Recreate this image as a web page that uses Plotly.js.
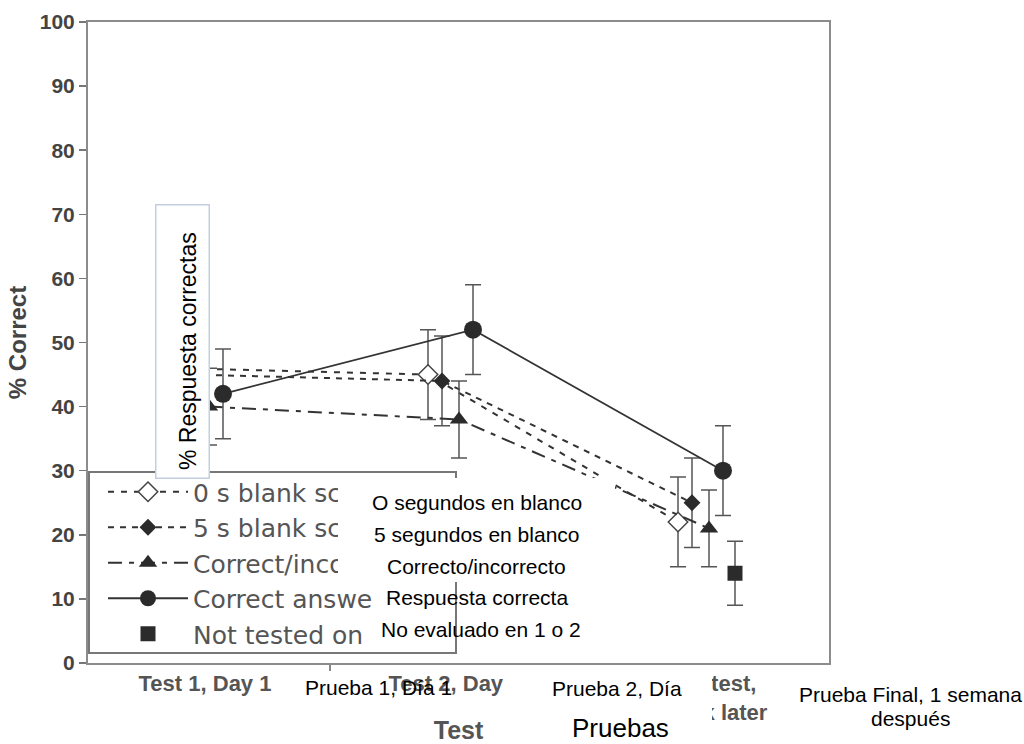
<!DOCTYPE html>
<html><head><meta charset="utf-8">
<script src="https://cdn.plot.ly/plotly-3.0.1.min.js"></script>
<style>html,body{margin:0;padding:0;background:#fff}#chart{width:1024px;height:744px}</style>
</head><body><div id="chart"></div>
<script>
// ---- data ----
const tickLabels = ["Test 1, Day 1", "Test 2, Day 1", "Final test,<br>1 week later"];
// legend labels as far as they are visible in the picture (the rest is covered)
const seriesNames = ["0 s blank sc", "5 s blank sc", "Correct/inco", "Correct answe", "Not tested on"];
const blank0 = [46, 45, 22];
const blank0Err = [7, 7, 7];
const blank5 = [45, 44, 25];
const blank5Err = [7, 7, 7];
const corrIncorr = [40, 38, 21];
const corrIncorrErr = [6, 6, 6];
const corrAnswer = [42, 52, 30];
const corrAnswerErr = [7, 7, 7];
const notTested = [null, null, 14];
const notTestedErr = [null, null, 5];
const yTicks = [0, 10, 20, 30, 40, 50, 60, 70, 80, 90, 100];
const spanishLegend = ["O segundos en blanco", "5 segundos en blanco", "Correcto/incorrecto", "Respuesta correcta", "No evaluado en 1 o 2"];

// ---- geometry helpers (pixels -> paper) ----
const L = 88, R = 829, T = 22, B = 663;
const px = x => (x - L) / (R - L);
const py = y => (B - y) / (B - T);

const base = tickLabels.map((c, i) => i + 1);
const xs = off => base.map(v => v + off);
const F = "Liberation Sans, Arial, sans-serif";
const lineCol = "#333";
const errStyle = arr => ({type: "data", array: arr, visible: true, color: "#555", thickness: 1.5, width: 8});

const traces = [
  {name: seriesNames[0], x: xs(-0.108), y: blank0, mode: "lines+markers",
   line: {color: lineCol, width: 2, dash: "6px,7px"},
   marker: {symbol: "diamond", size: 15, color: "#fff", line: {color: "#444", width: 1.5}},
   error_y: errStyle(blank0Err)},
  {name: seriesNames[1], x: xs(-0.052), y: blank5, mode: "lines+markers",
   line: {color: lineCol, width: 2, dash: "6px,6px"},
   marker: {symbol: "diamond", size: 13, color: "#2b2b2b"},
   error_y: errStyle(blank5Err)},
  {name: seriesNames[2], x: xs(0.016), y: corrIncorr, mode: "lines+markers",
   line: {color: lineCol, width: 2, dash: "14px,7px,5px,7px"},
   marker: {symbol: "triangle-up", size: 16, color: "#2b2b2b"},
   error_y: errStyle(corrIncorrErr)},
  {name: seriesNames[3], x: xs(0.072), y: corrAnswer, mode: "lines+markers",
   line: {color: lineCol, width: 1.8},
   marker: {symbol: "circle", size: 18, color: "#2b2b2b"},
   error_y: errStyle(corrAnswerErr)},
  {name: seriesNames[4], x: xs(0.12), y: notTested, mode: "markers",
   marker: {symbol: "square", size: 15, color: "#2b2b2b"},
   error_y: errStyle(notTestedErr)}
];

const box = (x0, x1, y0, y1, extra) => Object.assign({
  xref: "paper", yref: "paper", x: px((x0 + x1) / 2), y: py((y0 + y1) / 2), xanchor: "center", yanchor: "middle",
  text: " ", showarrow: false, width: x1 - x0, height: y1 - y0, bgcolor: "#fff", borderpad: 0, borderwidth: 0
}, extra || {});
const txt = (s, cx, cy, size, extra) => Object.assign({
  xref: "paper", yref: "paper", x: px(cx), y: py(cy), xanchor: "center", yanchor: "middle",
  text: s, showarrow: false, font: {family: F, size: size, color: "#000"}
}, extra || {});

const legendRowsY = [502, 534, 566, 597, 629];
const annotations = [
  box(156, 208, 205, 477, {bordercolor: "#c5cde0", borderwidth: 1.5}),
  txt("% Respuesta correctas", 188, 351, 23, {textangle: -90}),
  box(338, 615, 478, 582),
  box(381, 454, 582, 642),
  box(458, 615, 582, 642),
  ...spanishLegend.map((s, i) => txt(s, i === 4 ? 481 : 477, legendRowsY[i], 21)),
  txt("Prueba 1, Día 1", 378, 687, 21),
  box(507, 712, 665, 744),
  txt("Prueba 2, Día", 616.5, 688, 21),
  txt("Pruebas", 620, 728, 26),
  txt("Prueba Final, 1 semana", 910, 694, 21),
  txt("después", 910, 718, 21)
];

const layout = {
  width: 1024, height: 744,
  margin: {l: L, r: 1024 - R, t: T, b: 744 - B, autoexpand: false},
  paper_bgcolor: "#fff", plot_bgcolor: "#fff",
  showlegend: true,
  legend: {x: px(103), y: py(469), xanchor: "left", yanchor: "top",
           bgcolor: "rgba(0,0,0,0)", borderwidth: 0, itemwidth: 80,
           font: {family: "DejaVu Sans, sans-serif", size: 25, color: "#555"}},
  xaxis: {range: [0.532, 3.496], tickvals: base, ticktext: tickLabels, ticks: "",
          showline: true, mirror: true, linecolor: "#8c8c8c", linewidth: 2,
          showgrid: false, zeroline: false,
          tickfont: {family: F, size: 22, color: "#555", weight: "bold"},
          minor: {tickvals: [1.5, 2.5], ticks: "outside", ticklen: 6, tickcolor: "#888", tickwidth: 1.5},
          title: {text: "Test", font: {family: F, size: 25, color: "#555", weight: "bold"}}},
  yaxis: {range: [0, 100], tickvals: yTicks, ticks: "outside", ticklen: 7, tickwidth: 1.5, tickcolor: "#777",
          showline: true, mirror: true, linecolor: "#8c8c8c", linewidth: 2,
          showgrid: false, zeroline: false,
          tickfont: {family: F, size: 21, color: "#444", weight: "bold"},
          title: {text: "% Correct", standoff: 6, font: {family: F, size: 24, color: "#444", weight: "bold"}}},
  shapes: [{type: "rect", xref: "paper", yref: "paper", x0: px(89), x1: px(456), y0: py(653), y1: py(472),
            line: {color: "#777", width: 2}, fillcolor: "rgba(0,0,0,0)", layer: "above"}],
  annotations: annotations
};

Plotly.newPlot("chart", traces, layout, {displayModeBar: false, staticPlot: true});
</script></body></html>
